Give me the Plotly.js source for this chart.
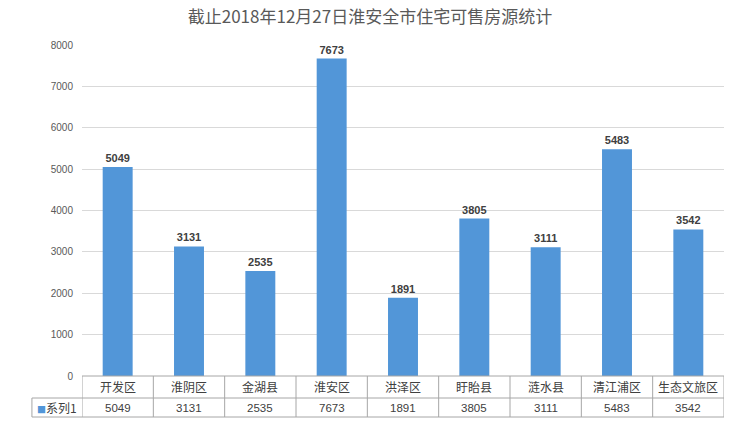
<!DOCTYPE html>
<html>
<head>
<meta charset="utf-8">
<script src="https://cdn.plot.ly/plotly-3.0.1.min.js"></script>
<style>html,body{margin:0;padding:0;background:#fff;}#chart{width:740px;height:432px;}</style>
</head>
<body>
<div id="chart"></div>
<script>
const titleText = '截止2018年12月27日淮安全市住宅可售房源统计';
const categories = ['开发区','淮阴区','金湖县','淮安区','洪泽区','盱眙县','涟水县','清江浦区','生态文旅区'];
const seriesName = '系列1';
const values = [5049, 3131, 2535, 7673, 1891, 3805, 3111, 5483, 3542];
const yTicks = [0,1000,2000,3000,4000,5000,6000,7000,8000];

const barColor = '#5296d8';
const gridColor = '#d9d9d9';
const tableLine = '#a6a6a6';
const cjk = '"Noto Sans CJK SC", "Liberation Sans", sans-serif';

// table geometry (paper coords below plot)
const row1Bottom = -0.0665, row2Bottom = -0.1239;
const row1Mid = -0.0332, row2Mid = -0.0952;
const legendLeft = -0.078;  // paper x of legend cell left edge
const n = categories.length;

const shapes = [];
const lineStyle = {color: tableLine, width: 1};
shapes.push({type:'line', xref:'paper', yref:'paper', x0:0, x1:1, y0:0, y1:0, line:lineStyle});
shapes.push({type:'line', xref:'paper', yref:'paper', x0:legendLeft, x1:1, y0:row1Bottom, y1:row1Bottom, line:lineStyle});
shapes.push({type:'line', xref:'paper', yref:'paper', x0:legendLeft, x1:1, y0:row2Bottom, y1:row2Bottom, line:lineStyle});
shapes.push({type:'line', xref:'paper', yref:'paper', x0:legendLeft, x1:legendLeft, y0:row1Bottom, y1:row2Bottom, line:lineStyle});
for (let k = 0; k <= n; k++) {
  const xv = k - 0.5;
  shapes.push({type:'line', xref:'x', yref:'paper', x0:xv, x1:xv, y0:0, y1:row2Bottom, line:lineStyle});
}

const annotations = [];
categories.forEach((c, i) => {
  annotations.push({xref:'x', yref:'paper', x:i, y:row1Mid, text:c, showarrow:false,
    xanchor:'center', yanchor:'middle', font:{family:cjk, size:12, color:'#404040'}});
  annotations.push({xref:'x', yref:'paper', x:i, y:row2Mid, text:String(values[i]), showarrow:false,
    xanchor:'center', yanchor:'middle', font:{family:'"Liberation Sans", sans-serif', size:11.5, color:'#404040'}});
});
annotations.push({xref:'paper', yref:'paper', x:legendLeft/2, y:row2Mid,
  text:'<span style="color:'+barColor+';font-size:9px">■</span>'+seriesName, showarrow:false,
  xanchor:'center', yanchor:'middle', font:{family:cjk, size:12, color:'#404040'}});

const trace = {
  type:'bar', x:categories, y:values, name:seriesName,
  marker:{color:barColor},
  text: values.map(String), textposition:'outside', cliponaxis:false,
  textfont:{family:'"Liberation Sans", sans-serif', size:11, color:'#404040', weight:'bold'},
  hoverinfo:'x+y'
};

const layout = {
  width:740, height:432,
  margin:{l:82, r:16, t:45, b:56},
  paper_bgcolor:'#ffffff', plot_bgcolor:'#ffffff',
  title:{text:titleText, x:0.5, xanchor:'center', y:0.961, yanchor:'middle', yref:'container',
    font:{family:cjk, size:17, color:'#595959'}},
  showlegend:false,
  bargap:0.58,
  xaxis:{type:'category', range:[-0.5, n-0.5], showticklabels:false, showgrid:false, zeroline:false,
    showline:false, ticks:''},
  yaxis:{range:[0, 8000], tickvals:yTicks, ticktext:yTicks.map(String), showgrid:true, gridcolor:gridColor,
    gridwidth:1, zeroline:false, showline:false, ticks:'', ticklabelstandoff:8,
    tickfont:{family:'"Liberation Sans", sans-serif', size:10, color:'#595959'}},
  shapes:shapes, annotations:annotations
};

Plotly.newPlot('chart', [trace], layout, {displayModeBar:false, staticPlot:true});
</script>
</body>
</html>
